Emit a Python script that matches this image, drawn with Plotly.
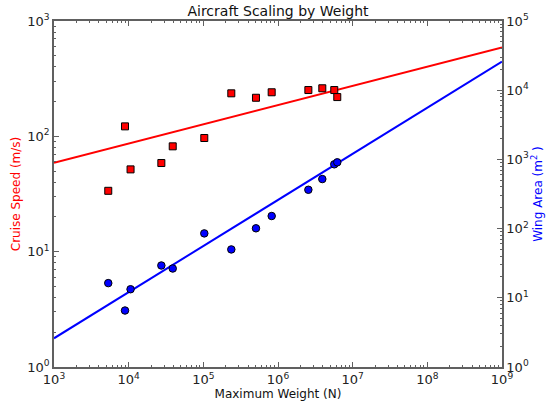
import numpy as np
import plotly.graph_objects as go

# ---- data ----
weight = [5.33e3, 8.93e3, 1.06e4, 2.74e4, 3.89e4, 1.03e5, 2.37e5, 5.07e5,
          8.23e5, 2.55e6, 3.92e6, 5.67e6, 6.22e6]
speed = [33.7, 122, 51.7, 58.7, 81.9, 96.7, 236, 216, 241, 252, 261, 252, 219]
wing_area = [16.3, 6.55, 13.3, 29.3, 26.5, 85.3, 50, 101, 152, 364, 520, 849, 908]

fit_weight = [1e3, 1e9]
fit_speed = [59, 590]
fit_area = [2.6, 26000]

x_tickvals = [1e3, 1e4, 1e5, 1e6, 1e7, 1e8, 1e9]
x_ticktext = ["10<sup>3</sup>", "10<sup>4</sup>", "10<sup>5</sup>", "10<sup>6</sup>",
              "10<sup>7</sup>", "10<sup>8</sup>", "10<sup>9</sup>"]
y1_tickvals = [1, 10, 100, 1000]
y1_ticktext = ["10<sup>0</sup>", "10<sup>1</sup>", "10<sup>2</sup>", "10<sup>3</sup>"]
y2_tickvals = [1, 10, 100, 1000, 1e4, 1e5]
y2_ticktext = ["10<sup>0</sup>", "10<sup>1</sup>", "10<sup>2</sup>", "10<sup>3</sup>",
               "10<sup>4</sup>", "10<sup>5</sup>"]


def minor_vals(lo, hi):
    return [k * 10.0 ** e for e in range(lo, hi) for k in range(2, 10)]


FONT = "DejaVu Sans"
AX = "#606060"

fig = go.Figure()
fig.add_trace(go.Scatter(x=fit_weight, y=fit_speed, mode="lines",
                         line=dict(color="#ff0000", width=2), yaxis="y",
                         showlegend=False))
fig.add_trace(go.Scatter(x=weight, y=speed, mode="markers",
                         marker=dict(symbol="square", size=7, color="#ff0000",
                                     line=dict(color="black", width=1)),
                         yaxis="y", showlegend=False))
fig.add_trace(go.Scatter(x=fit_weight, y=fit_area, mode="lines",
                         line=dict(color="#0000ff", width=2), yaxis="y2",
                         showlegend=False))
fig.add_trace(go.Scatter(x=weight, y=wing_area, mode="markers",
                         marker=dict(symbol="circle", size=7.5, color="#0000ff",
                                     line=dict(color="black", width=1)),
                         yaxis="y2", showlegend=False))

common = dict(showgrid=False, zeroline=False, showline=True, linecolor=AX,
              linewidth=1.5, ticks="inside", ticklen=5, tickwidth=1,
              tickcolor=AX, automargin=False,
              tickfont=dict(family=FONT, size=13, color="#222"))

fig.update_layout(
    width=547, height=407,
    margin=dict(l=54, r=45, t=21, b=40),
    paper_bgcolor="white", plot_bgcolor="white",
    font=dict(family=FONT, color="#222"),
    title=dict(text="Aircraft Scaling by Weight", x=0.5, xref="paper",
               y=1 - 11.5 / 407, yref="container", yanchor="middle",
               font=dict(family=FONT, size=14, color="#111")),
    xaxis=dict(type="log", range=[3, 9], tickmode="array",
               tickvals=x_tickvals, ticktext=x_ticktext, mirror="ticks",
               minor=dict(ticks="inside", ticklen=2.5, tickcolor=AX,
                          tickmode="array", tickvals=minor_vals(3, 9)),
               title=dict(text="Maximum Weight (N)", standoff=2,
                          font=dict(family=FONT, size=12, color="#111")),
               **common),
    yaxis=dict(type="log", range=[0, 3], tickmode="array",
               tickvals=y1_tickvals, ticktext=y1_ticktext,
               minor=dict(ticks="inside", ticklen=2.5, tickcolor=AX,
                          tickmode="array", tickvals=minor_vals(0, 3)),
               title=dict(text="Cruise Speed (m/s)", standoff=4,
                          font=dict(family=FONT, size=12, color="#ff0000")),
               **common),
    yaxis2=dict(type="log", range=[0, 5], overlaying="y", side="right",
                tickmode="array", tickvals=y2_tickvals, ticktext=y2_ticktext,
                minor=dict(ticks="inside", ticklen=2.5, tickcolor=AX,
                           tickmode="array", tickvals=minor_vals(0, 5)),
                title=dict(text="Wing Area (m<sup>2</sup> )", standoff=4,
                           font=dict(family=FONT, size=12, color="#0000ff")),
                **common),
)

fig.write_html("out.html", config={"displayModeBar": False},
               post_script="document.body.style.margin='0px';")
